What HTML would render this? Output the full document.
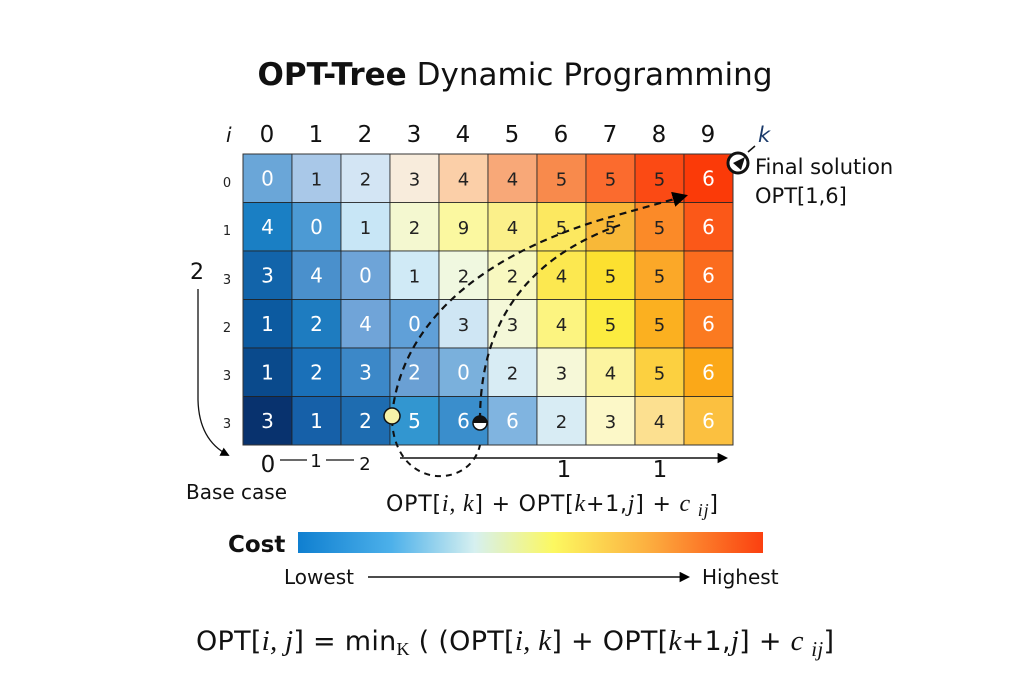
<!DOCTYPE html>
<html><head><meta charset="utf-8"><style>
html,body{margin:0;padding:0;background:#fff}
svg{display:block}
text{font-family:"DejaVu Sans","Liberation Sans",sans-serif}
</style></head><body>
<svg width="1024" height="683" viewBox="0 0 1024 683" xmlns="http://www.w3.org/2000/svg">
<defs>
<linearGradient id="cb" x1="0" x2="1" y1="0" y2="0">
<stop offset="0" stop-color="#0f7fd0"/><stop offset="0.2" stop-color="#4cb0ea"/><stop offset="0.38" stop-color="#d6f0f0"/><stop offset="0.55" stop-color="#fcf860"/><stop offset="0.75" stop-color="#fcb040"/><stop offset="1" stop-color="#fb4010"/>
</linearGradient>
<marker id="ah" viewBox="0 0 10 10" refX="8" refY="5" markerWidth="7" markerHeight="7" orient="auto"><path d="M0,0L10,5L0,10z" fill="#000"/></marker>
</defs>
<text x="515" y="85" font-size="31" text-anchor="middle" fill="#111" textLength="515"><tspan font-weight="bold">OPT-Tree</tspan> Dynamic Programming</text>
<g id="grid"></g>
<g font-size="23" text-anchor="middle" fill="#111">
<text x="267" y="142">0</text><text x="316" y="142">1</text><text x="365" y="142">2</text><text x="414" y="142">3</text><text x="463" y="142">4</text><text x="512" y="142">5</text><text x="561" y="142">6</text><text x="610" y="142">7</text><text x="659" y="142">8</text><text x="708" y="142">9</text>
</g>
<text x="226" y="142" font-size="20" font-style="italic" font-family="Liberation Serif,serif" fill="#111">i</text>
<text x="758" y="142" font-size="21" font-style="italic" font-family="Liberation Serif,serif" fill="#1a3a6a">k</text>
<g font-size="13" fill="#222" text-anchor="middle">
<text x="227" y="187">0</text><text x="227" y="235">1</text><text x="227" y="284">3</text><text x="227" y="332">2</text><text x="227" y="380">3</text><text x="227" y="428">3</text>
</g>
<text x="197" y="279" font-size="22" text-anchor="middle" fill="#111">2</text>
<path d="M198,289 L198,400 Q199,440 228,455" fill="none" stroke="#111" stroke-width="1.3" marker-end="url(#ah)"/>
<text x="268" y="472" font-size="23" text-anchor="middle" fill="#111">0</text>
<line x1="280" y1="460" x2="307" y2="460" stroke="#111" stroke-width="1.3"/>
<text x="316" y="467" font-size="18" text-anchor="middle" fill="#111">1</text>
<line x1="326" y1="460" x2="354" y2="460" stroke="#111" stroke-width="1.3"/>
<text x="365" y="470" font-size="18" text-anchor="middle" fill="#111">2</text>
<text x="186" y="499" font-size="20" fill="#111">Base case</text>
<line x1="400" y1="458" x2="726" y2="458" stroke="#111" stroke-width="1.5" marker-end="url(#ah)"/>
<text x="564" y="477" font-size="23" text-anchor="middle" fill="#111">1</text>
<text x="660" y="477" font-size="23" text-anchor="middle" fill="#111">1</text>
<text x="552" y="511" font-size="22" text-anchor="middle" fill="#111" textLength="332">OPT[<tspan font-style="italic" font-family="Liberation Serif,serif" font-size="24">i, k</tspan>] + OPT[<tspan font-style="italic" font-family="Liberation Serif,serif" font-size="24">k</tspan>+1,<tspan font-style="italic" font-family="Liberation Serif,serif" font-size="24">j</tspan>] + <tspan font-style="italic" font-family="Liberation Serif,serif" font-size="24">c <tspan dy="5" font-size="18">ij</tspan></tspan><tspan dy="-5">]</tspan></text>
<path d="M392,416 C400,330 470,260 600,220 L685,196" fill="none" stroke="#111" stroke-width="2.2" stroke-dasharray="7,5" marker-end="url(#ah)"/>
<path d="M480,420 C480,330 520,260 620,225" fill="none" stroke="#111" stroke-width="2.2" stroke-dasharray="7,5"/>
<path d="M392,420 C395,490 470,490 480,445" fill="none" stroke="#111" stroke-width="2" stroke-dasharray="6,5"/>
<circle cx="392" cy="416" r="8" fill="#f6f2a8" stroke="#111" stroke-width="1.5"/>
<circle cx="480" cy="423" r="7" fill="#fff" stroke="#111" stroke-width="1.5"/>
<path d="M473,423 A7,7 0 0 1 487,423 Z" fill="#111"/>
<circle cx="738" cy="163" r="10" fill="#fff" stroke="#111" stroke-width="3"/>
<path d="M733,163 L745,157 L741,170 Z" fill="#111"/>
<line x1="748" y1="152" x2="755" y2="146" stroke="#111" stroke-width="1.5"/>
<text x="755" y="174" font-size="21" fill="#111">Final solution</text>
<text x="755" y="203" font-size="21" fill="#111">OPT[1,6]</text>
<text x="228" y="552" font-size="23" font-weight="bold" fill="#111">Cost</text>
<rect x="298" y="532" width="465" height="21" fill="url(#cb)"/>
<text x="284" y="584" font-size="20" fill="#111">Lowest</text>
<line x1="368" y1="577" x2="688" y2="577" stroke="#111" stroke-width="1.5" marker-end="url(#ah)"/>
<text x="702" y="584" font-size="20" fill="#111">Highest</text>
<text x="515" y="650" font-size="27" text-anchor="middle" fill="#111" textLength="638">OPT[<tspan font-style="italic" font-family="Liberation Serif,serif" font-size="29">i, j</tspan>] = min<tspan font-family="Liberation Serif,serif" font-size="18" dy="5">K</tspan><tspan dy="-5"> (  (OPT[</tspan><tspan font-style="italic" font-family="Liberation Serif,serif" font-size="29">i, k</tspan>] + OPT[<tspan font-style="italic" font-family="Liberation Serif,serif" font-size="29">k</tspan>+1,<tspan font-style="italic" font-family="Liberation Serif,serif" font-size="29">j</tspan>] + <tspan font-style="italic" font-family="Liberation Serif,serif" font-size="29">c <tspan dy="6" font-size="21">ij</tspan></tspan><tspan dy="-6">]</tspan></text>
</svg>
<script>
var C=[
["#6aa6d8","#a9c8e8","#d3e5f4","#f8ecdc","#fbcfa8","#f8a878","#f88a4c","#fb6b2e","#fb4a14","#fb3a08"],
["#1a7fc4","#4c9ad4","#c8e6f6","#f4f8d0","#fbf8a0","#fbf08a","#fce860","#f8b838","#fb8a28","#fb5818"],
["#1264aa","#4a90cc","#6ea4d8","#d0eaf6","#f0f8e0","#f8f8c0","#fce850","#fce030","#fba828","#fb6c1e"],
["#0c5aa0","#1e7cc0","#70a4d8","#60a0d8","#cfe6f4","#f4f8d8","#fcf480","#fcec40","#fbb020","#fb7a20"],
["#0a4a8c","#1a70b8","#3c88c8","#6aa0d4","#7ab0dc","#d8ecf4","#f6f8d8","#fcf4a0","#fcd040","#fba818"],
["#08326e","#1660a8","#1e6cb0","#3296d0","#3a8ecc","#80b4e0","#d8ecf4","#fcf8c8","#fce090","#fbc040"]];
var V=["0123445556","4012945556","3401224556","1240334556","1232023456","3125662346"];
var W=[[1,0,0,0,0,0,0,0,0,1],[1,1,0,0,0,0,0,0,0,1],[1,1,1,0,0,0,0,0,0,1],[1,1,1,1,0,0,0,0,0,1],[1,1,1,1,1,0,0,0,0,1],[1,1,1,1,1,1,0,0,0,1]];
var g=document.getElementById('grid'),s='',x0=243,y0=154,w=49,h=48.5;
for(var r=0;r<6;r++)for(var c=0;c<10;c++){var x=x0+c*w,y=y0+r*h;
s+='<rect x="'+x+'" y="'+y+'" width="'+w+'" height="'+h+'" fill="'+C[r][c]+'" stroke="#222" stroke-width="0.8"/>';
var big=W[r][c];
s+='<text x="'+(x+w/2)+'" y="'+(y+h/2+7)+'" font-size="'+(big?20:18)+'" text-anchor="middle" fill="'+(big?'#fff':'#222')+'">'+V[r][c]+'</text>';}
s+='<rect x="243" y="154" width="490" height="291" fill="none" stroke="#333" stroke-width="1"/>';
g.innerHTML=s;
</script>
</body></html>
